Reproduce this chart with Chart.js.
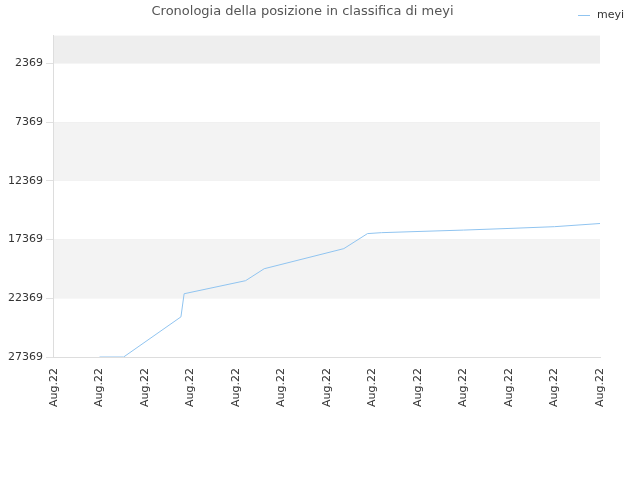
<!DOCTYPE html><html><head><script src="https://cdn.jsdelivr.net/npm/chart.js"></script></head><body style="margin:0"><div style="width:640px;height:480px"><canvas id="c"></canvas></div><script>
const xLabels=["Aug.22","Aug.22","Aug.22","Aug.22","Aug.22","Aug.22","Aug.22","Aug.22","Aug.22","Aug.22","Aug.22","Aug.22","Aug.22"];
const yTicks=[2369,7369,12369,17369,22369,27369];
const xs=[1,1.53,2.79,2.86,4.21,4.62,6.37,6.89,7.2,8,9,10,11,12];
const ranks=[27369,27369,23950,21980,20870,19850,18140,16860,16780,16680,16560,16420,16270,16000];
Chart.defaults.font.family='DejaVu Sans';
const bands={id:'bands',beforeDatasetsDraw(ch){const {ctx,chartArea:a,scales:{y}}=ch;ctx.save();
const edges=[0,...yTicks];for(let i=0;i<edges.length-1;i++){const t=y.getPixelForValue(edges[i]),b=y.getPixelForValue(edges[i+1]);
ctx.fillStyle=i==0?'#eeeeee':(i%2==0?'#f3f3f3':'#ffffff');ctx.fillRect(a.left,t,a.right-a.left,b-t);}ctx.restore();},
afterDraw(ch){const ctx=ch.ctx;ctx.save();ctx.strokeStyle='#90c4f0';ctx.lineWidth=1;ctx.beginPath();ctx.moveTo(578,15.5);ctx.lineTo(590,15.5);ctx.stroke();
ctx.fillStyle='#333';ctx.font='11px "DejaVu Sans"';ctx.textBaseline='middle';ctx.fillText(ch.data.datasets[0].label,597,15);ctx.restore();}};
new Chart(document.getElementById('c'),{type:'line',data:{datasets:[{label:'meyi',data:xs.map((x,i)=>({x,y:ranks[i]})),borderColor:'#90c4f0',backgroundColor:'#90c4f0',borderWidth:1,pointRadius:0,tension:0}]},
options:{responsive:true,maintainAspectRatio:false,animation:false,layout:{padding:{right:40,left:5,bottom:70}},
plugins:{title:{display:true,text:'Cronologia della posizione in classifica di meyi',color:'#555',font:{size:13,weight:'normal'},padding:{top:4,bottom:16}},
legend:{display:false}},
scales:{x:{type:'linear',min:0,max:12,afterBuildTicks(s){s.ticks=xLabels.map((_,i)=>({value:i}));},ticks:{callback:(v)=>xLabels[v],maxRotation:90,minRotation:90,color:'#333',font:{size:11}},grid:{display:false},border:{color:'#ddd'}},
y:{reverse:true,min:0,max:27369,afterBuildTicks(s){s.ticks=yTicks.map(v=>({value:v}));},ticks:{callback:v=>String(v),color:'#333',font:{size:11}},grid:{color:'#e0e0e0'},border:{color:'#ddd'}}}},plugins:[bands]});
</script></body></html>
